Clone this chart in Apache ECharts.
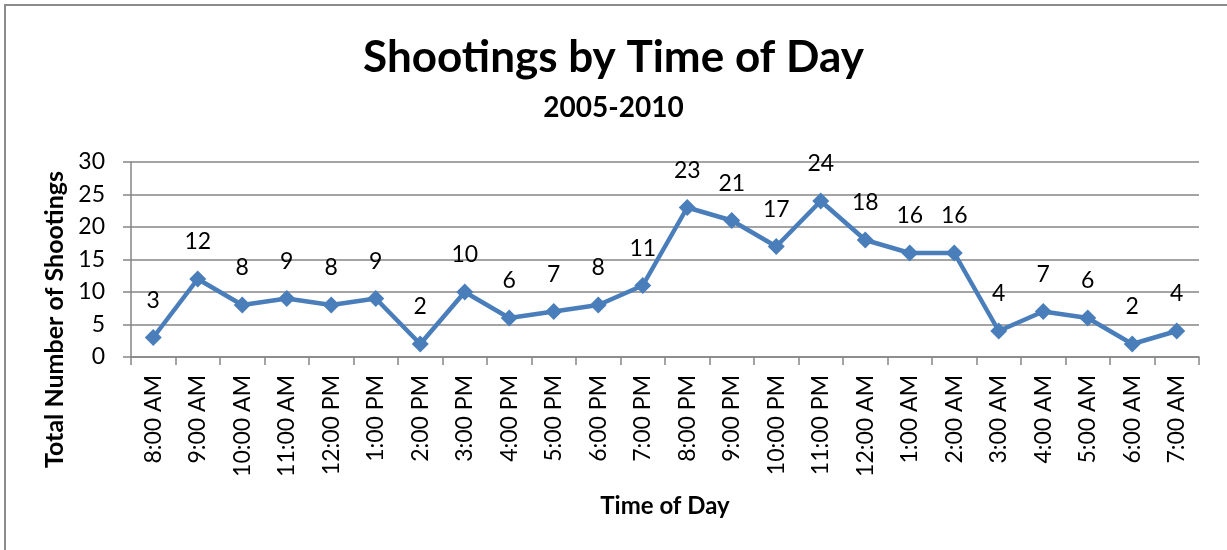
<!DOCTYPE html>
<html>
<head>
<meta charset="utf-8">
<script src="https://cdn.jsdelivr.net/npm/echarts@6/dist/echarts.min.js"></script>
<style>
  body { margin: 0; background: #fff; }
  #chart { width: 1227px; height: 550px; }
</style>
</head>
<body>
<div id="chart"></div>
<script>
// hours from 8 AM round to 7 AM
var times = ['8:00 AM', '9:00 AM', '10:00 AM', '11:00 AM', '12:00 PM', '1:00 PM', '2:00 PM',
  '3:00 PM', '4:00 PM', '5:00 PM', '6:00 PM', '7:00 PM', '8:00 PM', '9:00 PM', '10:00 PM',
  '11:00 PM', '12:00 AM', '1:00 AM', '2:00 AM', '3:00 AM', '4:00 AM', '5:00 AM', '6:00 AM', '7:00 AM'];
var shootings = [3, 12, 8, 9, 8, 9, 2, 10, 6, 7, 8, 11, 23, 21, 17, 24, 18, 16, 16, 4, 7, 6, 2, 4];

var font = 'Lato';
var chart = echarts.init(document.getElementById('chart'));
chart.setOption({
  animation: false,
  graphic: [{
    type: 'rect',
    shape: { x: 5, y: 5, width: 1260, height: 580 },
    style: { fill: 'none', stroke: '#8c8c8c', lineWidth: 2 },
    silent: true
  }],
  title: {
    text: 'Shootings by Time of Day',
    subtext: '2005-2010',
    left: 'center',
    top: 31,
    itemGap: 14,
    textStyle: { fontFamily: font, fontWeight: 'bold', fontSize: 44, color: '#000' },
    subtextStyle: { fontFamily: font, fontWeight: 'bold', fontSize: 28, color: '#000' }
  },
  grid: { left: 131, right: 28, top: 162, bottom: 193 },
  xAxis: {
    type: 'category',
    data: times,
    boundaryGap: true,
    name: 'Time of Day',
    nameLocation: 'middle',
    nameGap: 137,
    nameTextStyle: { fontFamily: font, fontWeight: 'bold', fontSize: 24, color: '#000' },
    axisLine: { lineStyle: { color: '#868686', width: 1.5 } },
    axisTick: { show: true, alignWithLabel: false, length: 8, lineStyle: { color: '#868686', width: 1.5 } },
    axisLabel: { rotate: 90, interval: 0, margin: 18, fontFamily: font, fontSize: 23, color: '#000' }
  },
  yAxis: {
    type: 'value',
    min: 0,
    max: 30,
    interval: 5,
    name: 'Total Number of Shootings',
    nameLocation: 'middle',
    nameGap: 63,
    nameRotate: 90,
    nameTextStyle: {
      fontFamily: font, fontWeight: 'bold', fontSize: 25, color: '#000',
      padding: [0, 120, 0, 0]
    },
    axisLine: { show: true, lineStyle: { color: '#868686', width: 1.5 } },
    axisTick: { show: true, length: 8, lineStyle: { color: '#868686', width: 1.5 } },
    axisLabel: { margin: 26, fontFamily: font, fontSize: 23, color: '#000' },
    splitLine: { lineStyle: { color: '#868686', width: 1.5 } }
  },
  series: [{
    type: 'line',
    data: shootings,
    symbol: 'diamond',
    symbolSize: 17,
    lineStyle: { color: '#4a7ebb', width: 4.5 },
    itemStyle: { color: '#4a7ebb' },
    label: {
      show: true,
      position: 'top',
      distance: 17,
      fontFamily: font,
      fontSize: 23,
      color: '#000'
    }
  }]
});
</script>
</body>
</html>
